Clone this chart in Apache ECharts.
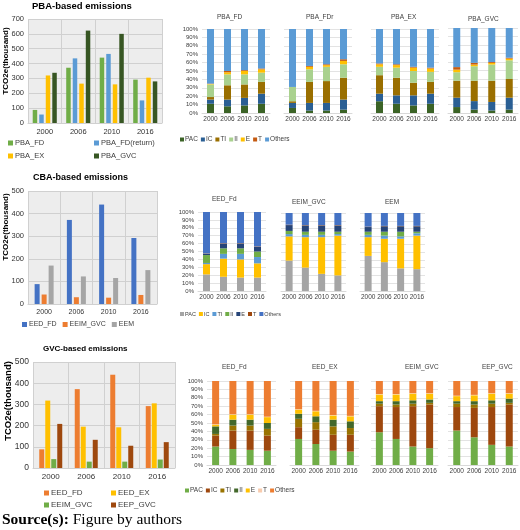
<!DOCTYPE html>
<html>
<head>
<meta charset="utf-8" />
<title>PBA / CBA / GVC emissions</title>
<script src="https://cdn.jsdelivr.net/npm/echarts@6/dist/echarts.min.js"></script>
<style>
    body { margin: 0; background: #fff; }
    .layer { position: absolute; left: 0; top: 0; width: 520px; height: 530px; }
    #source { position: absolute; left: 2px; top: 510px; font-family: 'Liberation Serif', serif;
              font-size: 15.5px; color: #000; white-space: nowrap; }
</style>
</head>
<body>
    <div id="pba" class="layer"></div>
    <div id="cba" class="layer"></div>
    <div id="gvc" class="layer"></div>
    <div id="pbaShare" class="layer"></div>
    <div id="cbaShare" class="layer"></div>
    <div id="gvcShare" class="layer"></div>
    <div id="source"><b>Source(s):</b> Figure by authors</div>
</body>
</html>
<script type="text/javascript">
    var years = ['2000', '2006', '2010', '2016'];
    var parts = ['PAC', 'IC', 'TI', 'II', 'E', 'T', 'Others'];

    // emissions, thousand tCO2e
    var pbaFd = [88, 372, 440, 292];
    var pbaFdReturn = [57, 435, 465, 152];
    var pbaEx = [320, 265, 260, 305];
    var pbaGvc = [338, 622, 600, 280];

    var cbaEedFd = [88, 372, 440, 292];
    var cbaEeimGvc = [42, 30, 28, 40];
    var cbaEem = [170, 122, 115, 150];

    var gvcEedFd = [88, 372, 440, 292];
    var gvcEedEx = [318, 195, 192, 305];
    var gvcEeimGvc = [42, 30, 30, 40];
    var gvcEepGvc = [208, 133, 105, 122];

    // shares in %, one row per part (PAC, IC, TI, II, E, T, Others), one column per year
    var shPbaFd = [[11, 8, 9, 11], [5, 8, 9, 12], [3, 17, 16, 14], [15, 13, 12, 11], [0.5, 2.5, 4, 4], [0.5, 1.5, 1, 1], [65, 50, 49, 47]];
    var shPbaFdr = [[6, 3, 3, 4], [6, 9, 9, 12], [2, 25, 26, 26], [17, 15, 17, 16], [0, 3, 2, 4], [0, 1, 1, 2], [69, 44, 42, 36]];
    var shPbaEx = [[14, 11, 9, 11], [9, 10, 12, 12], [22, 21, 15, 14], [10, 12, 14, 12], [3, 3, 4, 4], [1, 1, 1, 1], [41, 42, 45, 46]];
    var shPbaGvc = [[7, 4, 3, 4], [11, 10, 10, 14], [20, 24, 25, 22], [10, 17, 19, 22], [3, 2, 2, 2], [3, 2, 1, 1], [46, 41, 40, 35]];

    var shCbaEedFd = [[21, 18, 17, 17], [13, 23, 23, 18], [1.5, 6, 7, 8], [10, 7, 7, 7], [1.5, 6, 6, 6], [0.5, 0.5, 0.5, 0.5], [52.5, 39.5, 39.5, 43.5]];
    var shCbaEeimGvc = [[39, 30, 22, 20], [31, 39, 47, 51], [3, 3, 3, 2], [4, 4, 4, 3], [7.5, 8, 8, 8], [0.5, 0.5, 0.5, 0.5], [15, 15.5, 15.5, 15.5]];
    var shCbaEem = [[45, 37, 29, 28], [24, 30, 38, 43], [3, 4, 3, 3], [4, 5, 6, 2], [6, 7, 7, 7], [0.5, 0.5, 0.5, 0.5], [17.5, 16.5, 16.5, 16.5]];

    var shGvcEedFd = [[22, 19, 18, 17], [13, 22, 23, 18], [2, 6, 6, 8], [9, 7, 7, 7], [2, 6, 6, 7], [0.5, 0.5, 0.5, 0.5], [51.5, 39.5, 39.5, 42.5]];
    var shGvcEedEx = [[31, 25, 17, 16], [14, 17, 19, 20], [10, 9, 10, 8], [6, 7, 8, 8], [5, 6, 5, 6], [0.5, 0.5, 0.5, 0.5], [33.5, 35.5, 40.5, 41.5]];
    var shGvcEeimGvc = [[39, 31, 22, 20], [31, 38, 48, 52], [3, 3, 3, 2], [3, 4, 4, 4], [8, 8, 8, 7], [0.5, 0.5, 0.5, 0.5], [15.5, 15.5, 14.5, 14.5]];
    var shGvcEepGvc = [[41, 33, 24, 22], [28, 35, 45, 50], [4, 4, 4, 2], [3, 4, 4, 5], [6, 7, 8, 6], [0.5, 0.5, 0.5, 0.5], [17.5, 16.5, 14.5, 14.5]];

    var FONT = 'Liberation Sans';

    function barOption(t) {
        return {
            animation: false,
            textStyle: { fontFamily: FONT },
            title: {
                text: t.title, left: t.titleAt[0], top: t.titleAt[1], padding: 0,
                textStyle: { fontSize: t.titleSize, fontWeight: 'bold', color: '#000' }
            },
            grid: {
                left: t.grid[0], top: t.grid[1], width: t.grid[2], height: t.grid[3],
                show: true, backgroundColor: '#ededed', borderWidth: 0
            },
            legend: t.legends.map(function (lg) {
                return {
                    left: lg.left, top: lg.top, orient: lg.orient, itemGap: lg.gap, data: lg.names,
                    icon: 'rect', itemWidth: 5, itemHeight: 5, padding: 0,
                    textStyle: { fontSize: t.font, color: '#404040', padding: [0, 0, 0, -3] }
                };
            }),
            xAxis: {
                type: 'category', data: years, axisTick: { show: false },
                axisLine: { lineStyle: { color: '#d0d0d0' } },
                splitLine: { show: true, lineStyle: { color: '#d0d0d0' } },
                axisLabel: { fontSize: t.font, color: '#333', margin: 5, interval: 0 }
            },
            yAxis: {
                type: 'value', min: 0, max: t.yMax, interval: 100,
                axisLabel: { fontSize: t.yFont, color: '#333', margin: 4 },
                splitLine: { lineStyle: { color: '#d0d0d0' } }
            },
            graphic: [{
                type: 'text', x: t.yTitle[0], y: t.yTitle[1], rotation: Math.PI / 2,
                style: {
                    text: 'TCO2e(thousand)', font: 'bold ' + t.yTitleSize + "px 'Liberation Sans'",
                    textAlign: 'center', textVerticalAlign: 'middle', fill: '#000'
                }
            }],
            series: t.series.map(function (s, i) {
                return {
                    type: 'bar', name: s[0], data: s[1], barWidth: t.barWidth, barGap: t.barGap,
                    itemStyle: { color: t.colors[i] }
                };
            })
        };
    }

    function shareOption(panels, colors, lg) {
        var opt = {
            animation: false,
            textStyle: { fontFamily: FONT },
            title: [], grid: [], xAxis: [], yAxis: [], series: [],
            legend: {
                left: lg[0], top: lg[1], data: parts, icon: 'rect', itemWidth: 4, itemHeight: 4,
                itemGap: 3, padding: 0,
                textStyle: { fontSize: lg[2], color: '#404040', padding: [0, 0, 0, -4] }
            }
        };
        panels.forEach(function (p, i) {
            opt.title.push({
                text: p.name, left: p.titleAt[0], top: p.titleAt[1], padding: 0,
                textStyle: { fontSize: 6.5, fontWeight: 'normal', color: '#404040' }
            });
            opt.grid.push({ left: p.box[0], top: p.box[1], width: p.box[2], height: p.box[3] });
            opt.xAxis.push({
                gridIndex: i, type: 'category', data: years, axisTick: { show: false },
                axisLine: { lineStyle: { color: '#d9d9d9' } },
                axisLabel: { fontSize: 6.5, color: '#404040', margin: 3, interval: 0 }
            });
            opt.yAxis.push({
                gridIndex: i, type: 'value', min: 0, max: 100, interval: 10,
                axisLabel: { show: i === 0, fontSize: 6, color: '#404040', formatter: '{value}%', margin: 4 },
                splitLine: { lineStyle: { color: '#e3e3e3' } }
            });
            p.data.forEach(function (vals, k) {
                opt.series.push({
                    type: 'bar', name: parts[k], stack: 's' + i, xAxisIndex: i, yAxisIndex: i,
                    data: vals, barWidth: 7, itemStyle: { color: colors[k] }
                });
            });
        });
        return opt;
    }

    echarts.init(document.getElementById('pba')).setOption(barOption({
        title: 'PBA-based emissions', titleAt: [32, 1], titleSize: 9.5,
        grid: [28, 19, 134, 104], yMax: 700, font: 7.5, yFont: 7.5,
        yTitle: [6, 61], yTitleSize: 8,
        barWidth: 4.5, barGap: '45%',
        colors: ['#70ad47', '#5b9bd5', '#ffc000', '#375623'],
        series: [['PBA_FD', pbaFd], ['PBA_FD(return)', pbaFdReturn], ['PBA_EX', pbaEx], ['PBA_GVC', pbaGvc]],
        legends: [
            { left: 8, top: 139, orient: 'vertical', gap: 5, names: ['PBA_FD', 'PBA_EX'] },
            { left: 94, top: 139, orient: 'vertical', gap: 5, names: ['PBA_FD(return)', 'PBA_GVC'] }
        ]
    }));

    echarts.init(document.getElementById('cba')).setOption(barOption({
        title: 'CBA-based emissions', titleAt: [33, 173], titleSize: 9,
        grid: [28, 191, 129, 113], yMax: 500, font: 7, yFont: 7.5,
        yTitle: [6, 227], yTitleSize: 8,
        barWidth: 5, barGap: '40%',
        colors: ['#4472c4', '#ed7d31', '#a5a5a5'],
        series: [['EED_FD', cbaEedFd], ['EEIM_GVC', cbaEeimGvc], ['EEM', cbaEem]],
        legends: [
            { left: 22, top: 321, orient: 'horizontal', gap: 6, names: ['EED_FD', 'EEIM_GVC', 'EEM'] }
        ]
    }));

    echarts.init(document.getElementById('gvc')).setOption(barOption({
        title: 'GVC-based emissions', titleAt: [43, 345], titleSize: 8,
        grid: [33, 362, 142, 106], yMax: 500, font: 8, yFont: 8.5,
        yTitle: [8, 401], yTitleSize: 9.5,
        barWidth: 5, barGap: '20%',
        colors: ['#ed7d31', '#ffc000', '#70ad47', '#9e480e'],
        series: [['EED_FD', gvcEedFd], ['EED_EX', gvcEedEx], ['EEIM_GVC', gvcEeimGvc], ['EEP_GVC', gvcEepGvc]],
        legends: [
            { left: 44, top: 489, orient: 'vertical', gap: 4, names: ['EED_FD', 'EEIM_GVC'] },
            { left: 111, top: 489, orient: 'vertical', gap: 4, names: ['EED_EX', 'EEP_GVC'] }
        ]
    }));

    echarts.init(document.getElementById('pbaShare')).setOption(shareOption([
        { name: 'PBA_FD', data: shPbaFd, box: [202, 29, 68, 84], titleAt: [217, 14] },
        { name: 'PBA_FDr', data: shPbaFdr, box: [284, 29, 68, 84], titleAt: [306, 14] },
        { name: 'PBA_EX', data: shPbaEx, box: [371, 29, 68, 84], titleAt: [391, 14] },
        { name: 'PBA_GVC', data: shPbaGvc, box: [448, 28, 70, 85], titleAt: [468, 16] }
    ], ['#3b6326', '#2a5f94', '#9a6f00', '#a9d18e', '#ffc000', '#c55a11', '#5b9bd5'], [180, 136, 6.5]));

    echarts.init(document.getElementById('cbaShare')).setOption(shareOption([
        { name: 'EED_Fd', data: shCbaEedFd, box: [198, 212, 68, 79], titleAt: [212, 196] },
        { name: 'EEIM_GVC', data: shCbaEeimGvc, box: [281, 213, 65, 78], titleAt: [292, 199] },
        { name: 'EEM', data: shCbaEem, box: [360, 213, 65, 78], titleAt: [385, 199] }
    ], ['#a5a5a5', '#ffc000', '#5b9bd5', '#70ad47', '#264478', '#9e480e', '#4472c4'], [180, 311, 5.5]));

    echarts.init(document.getElementById('gvcShare')).setOption(shareOption([
        { name: 'EED_Fd', data: shGvcEedFd, box: [207, 381, 69, 84], titleAt: [222, 364] },
        { name: 'EED_EX', data: shGvcEedEx, box: [290, 381, 69, 84], titleAt: [312, 364] },
        { name: 'EEIM_GVC', data: shGvcEeimGvc, box: [371, 381, 67, 84], titleAt: [405, 364] },
        { name: 'EEP_GVC', data: shGvcEepGvc, box: [448, 381, 70, 84], titleAt: [482, 364] }
    ], ['#70ad47', '#9e480e', '#997300', '#43682b', '#ffc000', '#f8cbad', '#ed7d31'], [185, 487, 6.5]));
</script>
